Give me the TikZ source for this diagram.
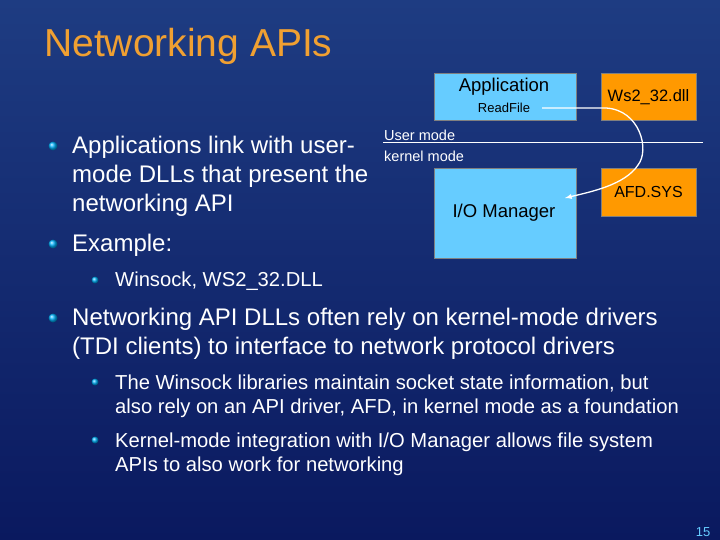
\documentclass[tikz,border=0pt]{standalone}
\usepackage{fontspec}
\setmainfont{Liberation Sans}
\begin{document}
\begin{tikzpicture}[x=1pt,y=-1pt,
  bul/.style={circle,inner sep=0pt,minimum size=#1,ball color=cyan!70!blue,draw=none},
  t/.style={anchor=west,text=white,align=left,inner sep=0pt},
]
\definecolor{bgtop}{RGB}{30,60,130}
\definecolor{bgbot}{RGB}{10,25,95}
\definecolor{ttl}{RGB}{240,160,50}
\definecolor{lb}{RGB}{102,204,255}
\definecolor{ob}{RGB}{255,153,0}
\shade[top color=bgtop,bottom color=bgbot] (0,0) rectangle (720,540);
\useasboundingbox (0,0) rectangle (720,540);
\node[anchor=west,text=ttl,inner sep=0pt,font=\fontsize{39}{40}\selectfont] (title) at (44,46) {Networking APIs};
% diagram
\node[draw=black!50,fill=lb,minimum width=142,minimum height=47,inner sep=0pt] (app) at (505,96.5) {};
\node[font=\fontsize{18.5}{20}\selectfont] (appt) at (504,87) {Application};
\node[font=\fontsize{13}{14}\selectfont] (rf) at (504,108) {ReadFile};
\node[draw=black!50,fill=ob,minimum width=95,minimum height=47,font=\fontsize{16.5}{20}\selectfont] (ws) at (648.5,97) {Ws2\_32.dll};
\node[draw=black!50,fill=lb,minimum width=142,minimum height=90,inner sep=0pt] (io) at (505,213) {};
\node[font=\fontsize{18.5}{20}\selectfont] (iot) at (504,213) {I/O Manager};
\node[draw=black!50,fill=ob,minimum width=95,minimum height=48,font=\fontsize{16}{20}\selectfont] (afd) at (648.5,192) {AFD.SYS};
\coordinate (ml) at (383,143); \coordinate (mr) at (703,143);
\draw[white,line width=1] (ml) -- (mr);
\node[t,font=\fontsize{14.5}{16}\selectfont] (um) at (384,135) {User mode};
\node[t,font=\fontsize{14.5}{16}\selectfont] (km) at (384,156) {kernel mode};
\coordinate (a0) at (542,108);
\coordinate (a1) at (565,198);
\draw[white,line width=1.3,-latex] (a0) -- (606,108) .. controls (640,110) and (650,150) .. (638,165) .. controls (625,185) and (590,192) .. (a1);
% bullets and text
\node[bul=9] (b1) at (53,146) {};
\node[t,font=\fontsize{24}{29}\selectfont] (t1) at (72,176) {Applications link with user-\\mode DLLs that present the\\networking API};
\node[bul=9] (b2) at (53,244) {};
\node[t,font=\fontsize{24}{29}\selectfont] (t2) at (72,245) {Example:};
\node[bul=7] (b3) at (95,280) {};
\node[t,font=\fontsize{20.2}{24}\selectfont] (t3) at (115,281) {Winsock, WS2\_32.DLL};
\node[bul=9] (b4) at (53,318) {};
\node[t,font=\fontsize{24}{29}\selectfont] (t4) at (72,334) {Networking API DLLs often rely on kernel-mode drivers\\(TDI clients) to interface to network protocol drivers};
\node[bul=7] (b5) at (95,382) {};
\node[t,font=\fontsize{20.2}{24}\selectfont] (t5) at (115,396) {The Winsock libraries maintain socket state information, but\\also rely on an API driver, AFD, in kernel mode as a foundation};
\node[bul=7] (b6) at (95,440) {};
\node[t,font=\fontsize{20.2}{24}\selectfont] (t6) at (115,454) {Kernel-mode integration with I/O Manager allows file system\\APIs to also work for networking};
\node[text=lb,font=\fontsize{13}{14}\selectfont,inner sep=0pt] (pg) at (703,532) {15};
\end{tikzpicture}
\end{document}
